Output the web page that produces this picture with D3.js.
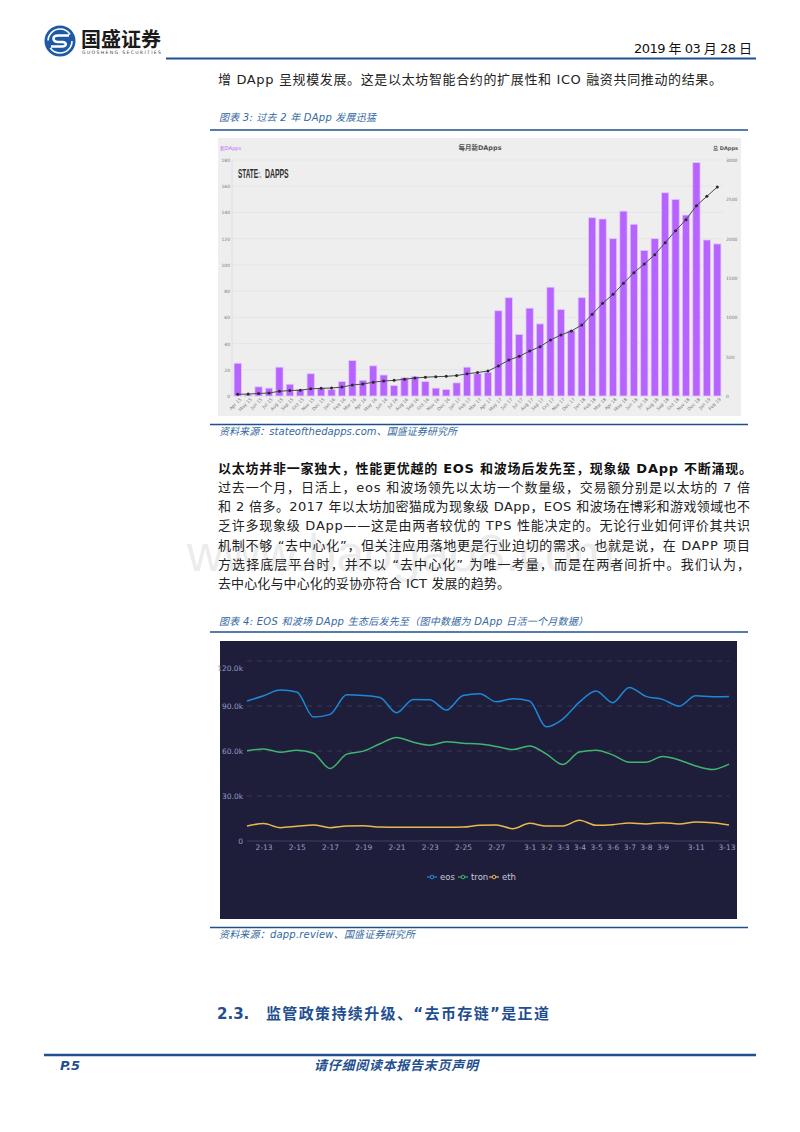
<!DOCTYPE html>
<html>
<head>
<meta charset="utf-8">
<title>国盛证券 P.5</title>
<script src="https://d3js.org/d3.v7.min.js"></script>
<style>
  html, body { margin: 0; padding: 0; background: #fff; }
  svg { display: block; }
  text { font-family: "DejaVu Sans", "Noto Sans CJK SC", sans-serif; }
</style>
</head>
<body>
<svg width="800" height="1132"></svg>
<script>
// ---- chart 3: new and total DApps per month
var months = [
  "Apr 15","May 15","Jun 15","Jul 15","Aug 15","Sep 15","Oct 15","Nov 15","Dec 15",
  "Jan 16","Feb 16","Mar 16","Apr 16","May 16","Jun 16","Jul 16","Aug 16","Sep 16","Oct 16","Nov 16","Dec 16",
  "Jan 17","Feb 17","Mar 17","Apr 17","May 17","Jun 17","Jul 17","Aug 17","Sep 17","Oct 17","Nov 17","Dec 17",
  "Jan 18","Feb 18","Mar 18","Apr 18","May 18","Jun 18","Jul 18","Aug 18","Sep 18","Oct 18","Nov 18","Dec 18",
  "Jan 19","Feb 19"];
var newDapps = [25,1,7,6,22,9,5,17,6, 5,11,27,12,23,16,8,14,15,11,6,5,
  10,22,17,18,65,75,47,67,55,83,66,50, 75,136,135,120,141,131,111,120,155,150,138,178, 119,116];
var totalDapps = [21,25,32,38,60,69,74,91,97, 102,113,140,152,175,191,199,213,228,239,245,250,
  260,282,299,317,382,457,504,571,627,712,775,826, 902,1038,1178,1292,1432,1568,1678,1797,1949,2102,2242,2420, 2538,2657];
var leftTicks = [0,20,40,60,80,100,120,140,160,180];
var rightTicks = [0,500,1000,1500,2000,2500,3000];

// ---- chart 4: daily active users, one month
var days = ["2-12","2-13","2-14","2-15","2-16","2-17","2-18","2-19","2-20","2-21","2-22","2-23","2-24","2-25","2-26",
  "2-27","2-28","3-1","3-2","3-3","3-4","3-5","3-6","3-7","3-8","3-9","3-10","3-11","3-12","3-13"];
var dayLabels = ["2-13","2-15","2-17","2-19","2-21","2-23","2-25","2-27","3-1","3-2","3-3","3-4","3-5","3-6","3-7","3-8","3-9","3-11","3-13"];
var eos = [93.3,96.8,100.6,99.3,82.6,84.4,97.5,97.0,95.7,85.5,94.4,94.2,87.3,97.0,98.2,
  92.8,94.8,93.3,76.1,81.3,92.6,100,92.2,102.4,96.4,94.4,89.9,96.8,96.2,96.4];
var tron = [60.1,61.4,59.2,60.5,58.5,48.3,57.9,59.9,64.8,69,65.9,63.9,66.1,65.2,64.6,
  63,61,63.4,58.1,51,59.4,60.5,57.4,52.5,52.5,56.3,54,50,47.6,51.2];
var eth = [10,11.6,8.9,9.8,10.7,8.9,10,10.2,9.3,9.1,9.1,9.1,9.1,9.3,10.5,
  10.7,8.2,11.8,10,10,13.8,10.5,10.9,12,11.4,12.2,11.4,12.7,12.2,10.7];
var activeTicks = [0,30,60,90,120];
var seriesNames = ["eos","tron","eth"];
var seriesColors = ["#1e88d8","#3fb56f","#e8b84c"];

// ---- page text
var bodyLines = [
  "过去一个月，日活上，eos 和波场领先以太坊一个数量级，交易额分别是以太坊的 7 倍",
  "和 2 倍多。2017 年以太坊加密猫成为现象级 DApp，EOS 和波场在博彩和游戏领域也不",
  "乏许多现象级 DApp——这是由两者较优的 TPS 性能决定的。无论行业如何评价其共识",
  "机制不够 “去中心化”，但关注应用落地更是行业迫切的需求。也就是说，在 DAPP 项目",
  "方选择底层平台时，并不以 “去中心化” 为唯一考量，而是在两者间折中。我们认为，",
  "去中心化与中心化的妥协亦符合 ICT 发展的趋势。"
];
var bodyWidths = [532, 532, 532, 532, 532, 292];

var blue = "#1f4f8f";
var svg = d3.select("svg");

function label(x, y, str, opts) {
  opts = opts || {};
  var t = svg.append("text").attr("x", x).attr("y", y).text(str)
    .attr("font-size", opts.size || 13)
    .attr("fill", opts.fill || "#222");
  if (opts.anchor) t.attr("text-anchor", opts.anchor);
  if (opts.weight) t.attr("font-weight", opts.weight);
  if (opts.italic) t.attr("font-style", "italic");
  if (opts.width) t.attr("textLength", opts.width).attr("lengthAdjust", opts.adjust || "spacing");
  if (opts.family) t.style("font-family", opts.family);
  return t;
}
function rule(x1, x2, y, w, color) {
  svg.append("line").attr("x1", x1).attr("x2", x2).attr("y1", y).attr("y2", y)
    .attr("stroke", color || blue).attr("stroke-width", w);
}

// watermark sits under everything
label(187, 571, "www.baogao8.com", { size: 52, fill: "#ececec", width: 428, adjust: "spacingAndGlyphs", family: "'Liberation Sans'" });

// header
var logo = svg.append("g").attr("transform", "translate(60,41)");
logo.append("circle").attr("r", 15.5).attr("fill", "#1c5aa6");
logo.append("circle").attr("r", 12).attr("fill", "none").attr("stroke", "#fff").attr("stroke-width", 1.6)
  .attr("stroke-dasharray", "30,8");
logo.append("path").attr("d", "M9,-5.5 H-2 C-8,-5.5 -8,1 -2,1 H2.5 C7,1 7,5.5 2,5.5 H-9")
  .attr("fill", "none").attr("stroke", "#fff").attr("stroke-width", 2.6);
label(81, 47, "国盛证券", { size: 20, weight: 700, fill: "#1b1b1b", width: 80 });
label(82, 54, "GUOSHENG SECURITIES", { size: 4.6, fill: "#444", width: 79 });
rule(166, 756, 58.5, 2);
label(634, 53, "2019 年 03 月 28 日", { size: 13, fill: "#111", width: 118 });

label(218, 84, "增 DApp 呈规模发展。这是以太坊智能合约的扩展性和 ICO 融资共同推动的结果。", { size: 13, width: 504 });

// caption of chart 3
label(219, 121, "图表 3:  过去 2 年 DApp 发展迅猛", { size: 10, fill: "#34689f", italic: true, width: 157 });
rule(210, 748, 130, 1.4);

// chart 3 panel
svg.append("rect").attr("x", 218).attr("y", 138).attr("width", 523).attr("height", 278).attr("fill", "#eeeeee");

var x3 = d3.scaleBand().domain(months).range([232.5, 722.5]).paddingInner(0.3).paddingOuter(0.15);
var yLeft = d3.scaleLinear().domain([0, 180]).range([396, 160]);
var yRight = d3.scaleLinear().domain([0, 3000]).range([396, 160]);

svg.append("g").selectAll("line").data(leftTicks).enter().append("line")
  .attr("x1", 232).attr("x2", 723)
  .attr("y1", function (d) { return yLeft(d); }).attr("y2", function (d) { return yLeft(d); })
  .attr("stroke", "#e3e3e3").attr("stroke-width", 0.8);
svg.append("line").attr("x1", 232).attr("x2", 232).attr("y1", 160).attr("y2", 396).attr("stroke", "#e0e0e0");

svg.append("g").selectAll("rect").data(newDapps).enter().append("rect")
  .attr("x", function (d, i) { return x3(months[i]); })
  .attr("y", function (d) { return yLeft(d); })
  .attr("width", x3.bandwidth())
  .attr("height", function (d) { return yLeft(0) - yLeft(d); })
  .attr("fill", "#b763ff")
  .attr("stroke", "#e2c8fb").attr("stroke-width", 0.8);

var totalLine = d3.line()
  .x(function (d, i) { return x3(months[i]) + x3.bandwidth() / 2; })
  .y(function (d) { return yRight(d); });
svg.append("path").attr("d", totalLine(totalDapps)).attr("fill", "none").attr("stroke", "#4a4a4a").attr("stroke-width", 1);
svg.append("g").selectAll("circle").data(totalDapps).enter().append("circle")
  .attr("cx", function (d, i) { return x3(months[i]) + x3.bandwidth() / 2; })
  .attr("cy", function (d) { return yRight(d); })
  .attr("r", 1.5).attr("fill", "#2a2a2a");

function styleAxis(g, color, size) {
  g.select(".domain").remove();
  g.selectAll(".tick line").remove();
  g.selectAll("text").attr("fill", color).attr("font-size", size);
}
svg.append("g").attr("transform", "translate(232,0)")
  .call(d3.axisLeft(yLeft).tickValues(leftTicks).tickSize(0).tickPadding(2))
  .call(styleAxis, "#777", 4.5);
svg.append("g").attr("transform", "translate(724,0)")
  .call(d3.axisRight(yRight).tickValues(rightTicks).tickFormat(d3.format("d")).tickSize(0).tickPadding(2))
  .call(styleAxis, "#777", 4.5);
svg.append("g").attr("transform", "translate(0,397)")
  .call(d3.axisBottom(x3).tickSize(0).tickPadding(3))
  .call(styleAxis, "#777", 4.5)
  .selectAll("text")
  .attr("text-anchor", "end").attr("dx", "0.2em").attr("dy", "0.4em")
  .attr("transform", "rotate(-45)");

label(220, 150, "新DApps", { size: 5, fill: "#b763ff" });
label(480, 150, "每月新DApps", { size: 6.5, fill: "#555", anchor: "middle", weight: 700 });
label(738, 150, "总 DApps", { size: 5, fill: "#555", anchor: "end", weight: 700 });

// State of the DApps wordmark: tall condensed capitals squeezed with a scale
function wordmark(x, str, scaleX) {
  svg.append("text").attr("transform", "translate(" + x + ",178) scale(" + scaleX + ",1)")
    .attr("font-size", 13).attr("font-weight", 700).attr("fill", "#2e2e2e")
    .style("font-family", "'Liberation Sans Narrow','Liberation Sans'")
    .text(str);
}
wordmark(238, "STATE", 0.49);
wordmark(265, "DAPPS", 0.53);
label(257, 173.5, "OF", { size: 2.6, fill: "#666" });
label(256.5, 177.5, "THE", { size: 2.6, fill: "#666" });

rule(210, 748, 424.5, 1.4);
label(219, 435, "资料来源：stateofthedapps.com、国盛证券研究所", { size: 10, fill: "#34689f", italic: true, width: 238 });

// body paragraph
label(218, 473, "以太坊并非一家独大，性能更优越的 EOS 和波场后发先至，现象级 DApp 不断涌现。", { size: 13, weight: 700, fill: "#111", width: 534 });
svg.append("g").selectAll("text").data(bodyLines).enter().append("text")
  .attr("x", 218)
  .attr("y", function (d, i) { return 492 + i * 19.2; })
  .attr("font-size", 13).attr("fill", "#222")
  .attr("textLength", function (d, i) { return bodyWidths[i]; })
  .attr("lengthAdjust", "spacing")
  .text(function (d) { return d; });

// caption of chart 4
label(219, 625, "图表 4:  EOS 和波场 DApp 生态后发先至（图中数据为 DApp 日活一个月数据）", { size: 10, fill: "#34689f", italic: true, width: 369 });
rule(210, 748, 632, 1.4);

// chart 4 panel
svg.append("rect").attr("x", 220).attr("y", 641).attr("width", 517).attr("height", 278).attr("fill", "#1e1e3a");

var x4 = d3.scalePoint().domain(days).range([247, 729]);
var y4 = d3.scaleLinear().domain([0, 120]).range([841, 661]);

svg.append("g").selectAll("line").data(activeTicks.slice(1)).enter().append("line")
  .attr("x1", 247).attr("x2", 729)
  .attr("y1", function (d) { return y4(d); }).attr("y2", function (d) { return y4(d); })
  .attr("stroke", "#3f3f60").attr("stroke-width", 0.8).attr("stroke-dasharray", "5,5");
svg.append("line").attr("x1", 247).attr("x2", 729).attr("y1", y4(0)).attr("y2", y4(0))
  .attr("stroke", "#3f3f60").attr("stroke-width", 1);

var smooth = d3.line()
  .x(function (d, i) { return x4(days[i]); })
  .y(function (d) { return y4(d); })
  .curve(d3.curveMonotoneX);
svg.append("g").selectAll("path").data([eos, tron, eth]).enter().append("path")
  .attr("d", function (d) { return smooth(d); })
  .attr("fill", "none")
  .attr("stroke", function (d, i) { return seriesColors[i]; })
  .attr("stroke-width", 1.5);

svg.append("g").attr("transform", "translate(243,0)")
  .call(d3.axisLeft(y4).tickValues(activeTicks).tickSize(0).tickPadding(0)
    .tickFormat(function (d) { return d === 0 ? "0" : d + ".0k"; }))
  .call(styleAxis, "#9a9cc8", 7.5)
  .selectAll("text")
  .attr("dy", function (d) { return d === 120 ? "1.2em" : "0.32em"; });

var x4Axis = svg.append("g").attr("transform", "translate(0,845)")
  .call(d3.axisBottom(x4).tickValues(dayLabels).tickSize(0).tickPadding(0))
  .call(styleAxis, "#9a9cc8", 7.5);
x4Axis.selectAll("text").filter(function (d) { return d === "3-13"; }).attr("text-anchor", "end").attr("dx", "0.8em");

var legendSymbolX = [427, 458, 489];
var legend = svg.append("g").selectAll("g").data(seriesNames).enter().append("g")
  .attr("transform", function (d, i) { return "translate(" + legendSymbolX[i] + ",877)"; });
legend.append("line").attr("x1", 0).attr("x2", 10)
  .attr("stroke", function (d, i) { return seriesColors[i]; }).attr("stroke-width", 1.2);
legend.append("circle").attr("cx", 5).attr("r", 1.8).attr("fill", "#1e1e3a")
  .attr("stroke", function (d, i) { return seriesColors[i]; }).attr("stroke-width", 1);
legend.append("text").attr("x", 13).attr("y", 3).attr("font-size", 8.5).attr("fill", "#c8c8dc")
  .text(function (d) { return d; });

rule(210, 748, 927.5, 1.4);
label(219, 938, "资料来源：dapp.review、国盛证券研究所", { size: 10, fill: "#34689f", italic: true, width: 196 });

// section heading and footer
label(217, 1019, "2.3.", { size: 15, weight: 700, fill: blue });
label(266, 1019, "监管政策持续升级、“去币存链”是正道", { size: 15, weight: 700, fill: blue, width: 283 });
rule(44, 756, 1055, 2.5);
label(60, 1070, "P.5", { size: 13, weight: 700, italic: true, fill: blue });
label(314, 1070, "请仔细阅读本报告末页声明", { size: 13, weight: 700, italic: true, fill: blue, width: 164 });
</script>
</body>
</html>
